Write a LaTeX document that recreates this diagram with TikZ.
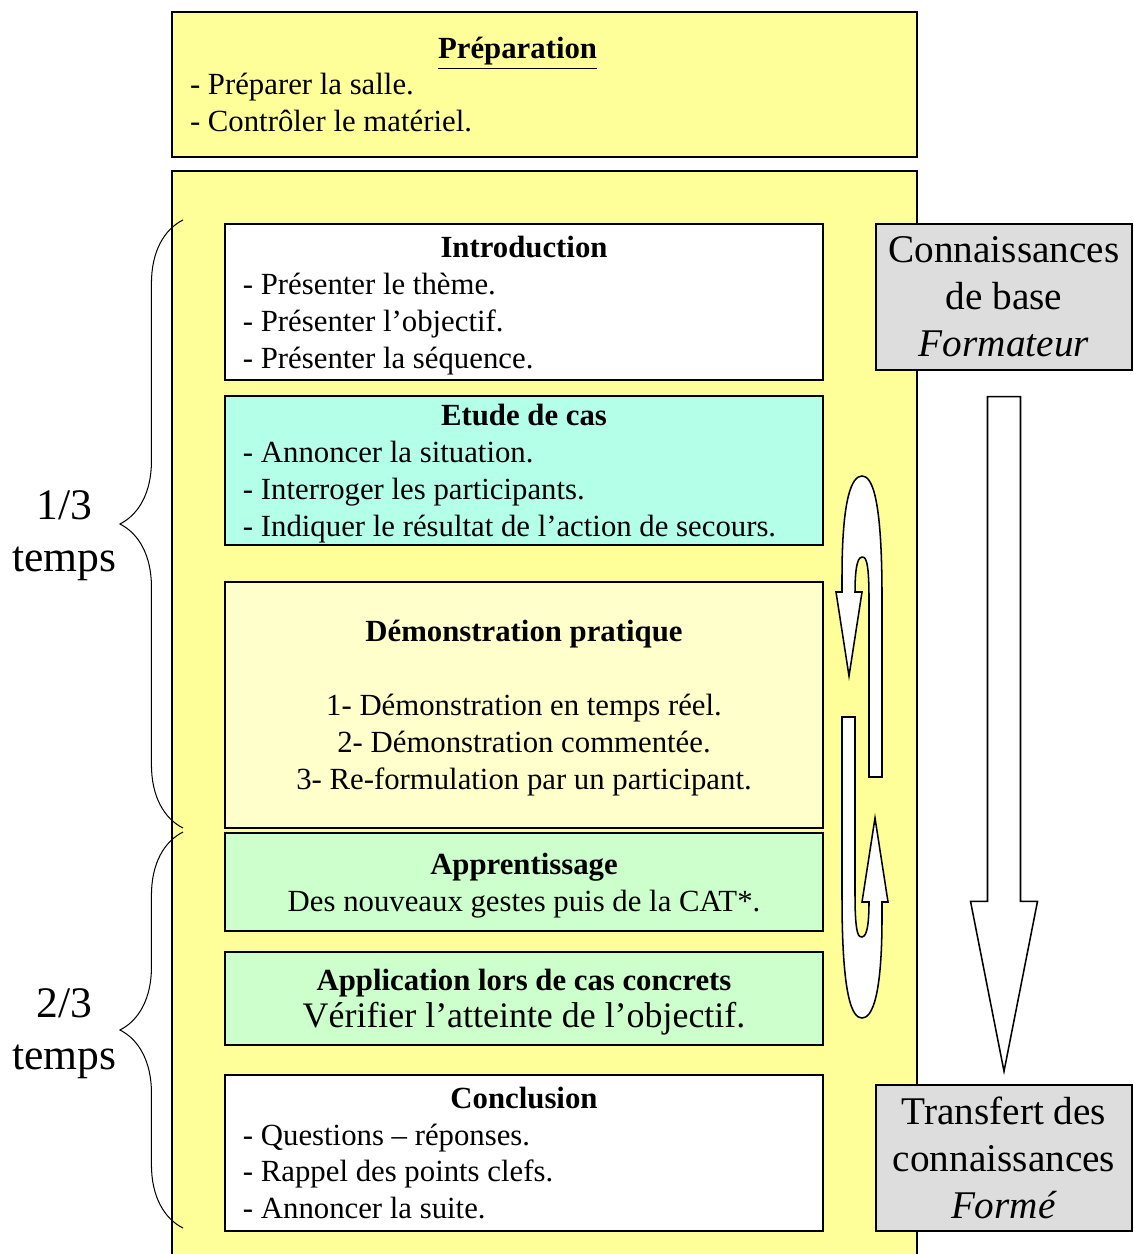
\documentclass[tikz,border=0pt]{standalone}
\usepackage{fontspec}
\setmainfont{Liberation Serif}
\usetikzlibrary{calc,decorations.pathreplacing}

\definecolor{jaune}{HTML}{FFFF99}
\definecolor{creme}{HTML}{FFFFCC}
\definecolor{menthe}{HTML}{B3FFE8}
\definecolor{vert}{HTML}{CCFFCC}
\definecolor{gris}{HTML}{DDDDDD}

\tikzset{
  etape/.style={draw, line width=0.8pt, minimum width=233.2pt, text width=219.2pt,
    inner xsep=7pt, inner ysep=0pt, align=flush left, font=\fontsize{12}{14.4}\selectfont},
  decale/.style={execute at begin node={\rule{0pt}{11pt}}},
  savoir/.style={draw, fill=gris, line width=0.6pt, minimum width=99.8pt,
    minimum height=56.9pt, inner sep=0pt, align=flush center, font=\fontsize{15.3}{18.4}\selectfont},
  accolade/.style={decorate, decoration={brace, amplitude=24.6pt}, line width=0.4pt},
  duree/.style={anchor=east, inner sep=0pt, align=flush center, font=\fontsize{17}{20.2}\selectfont},
  fleche/.style={draw, fill=white, line width=0.6pt},
  boucle/.pic={
    \draw[fleche] (-20,-30) -- (-7,-30) -- (-7,148)
      .. controls (-7,190) and (-3,190) .. (0,190)
      .. controls (3,190) and (7,185) .. (7,155)
      -- (0,155) -- (13,71) -- (26,155) -- (20,155) -- (20,170)
      .. controls (20,250) and (10,271) .. (0,271)
      .. controls (-10,271) and (-20,250) .. (-20,150) -- cycle;
  },
}

\begin{document}
\begin{tikzpicture}[x=0.39pt, y=-0.39pt]

\useasboundingbox[fill=white] (0,0) rectangle (1133,1254);

% Préparation
\node[etape, fill=jaune, minimum width=290.6pt, text width=276.5pt, minimum height=56.6pt] (prep) at (544.5,84.5)
  {{\centering\underline{\textbf{Préparation}}\hspace*{21pt}\par}- Préparer la salle.\\- Contrôler le matériel.};

% Fond de la séquence
\node[draw, fill=jaune, line width=0.6pt, minimum width=290.6pt, minimum height=430.6pt] (session) at (544.5,723) {};

% Etapes
\node[etape, decale, fill=white, minimum height=60.8pt] (intro) at (524,302)
  {{\centering\textbf{Introduction}\par}- Présenter le thème.\\- Présenter l’objectif.\\- Présenter la séquence.};
\node[etape, decale, fill=menthe, minimum height=58.1pt] (study) at (524,470.5)
  {{\centering\textbf{Etude de cas}\par}- Annoncer la situation.\\- Interroger les participants.\\- Indiquer le résultat de l’action de secours.};
\node[etape, decale, fill=creme, minimum height=95.9pt, align=flush center] (demo) at (524,705)
  {\textbf{Démonstration pratique}\\[14.4pt]1- Démonstration en temps réel.\\2- Démonstration commentée.\\3- Re-formulation par un participant.};
\node[etape, decale, fill=vert, minimum height=38.2pt, align=flush center] (practice) at (524,882)
  {\textbf{Apprentissage}\\Des nouveaux gestes puis de la CAT*.};
\node[etape, decale, fill=vert, minimum height=36.3pt, align=flush center] (apply) at (524,998.5)
  {\textbf{Application lors de cas concrets}\\{\fontsize{14}{14.4}\selectfont Vérifier l’atteinte de l’objectif.}};
\node[etape, fill=white, minimum height=60.8pt] (wrapup) at (524,1153)
  {{\centering\textbf{Conclusion}\par}- Questions – réponses.\\- Rappel des points clefs.\\- Annoncer la suite.};

% Connaissances
\node[savoir] (know) at (1004,297) {Connaissances\\de base\\\textit{Formateur}};
\node[savoir] (transfer) at (1004,1158) {Transfert des\\connaissances\\\textit{Formé}};

% Grande fleche
\coordinate (flowtop) at ($(know.south)+(0,26)$);
\coordinate (flowtip) at ($(transfer.north)+(0,-13)$);
\draw[fleche] ($(flowtop)+(-16.5,0)$) -- ($(flowtop)+(16.5,0)$) -- ($(flowtip)+(16.5,-170)$)
  -- ($(flowtip)+(33.5,-170)$) -- (flowtip) -- ($(flowtip)+(-33.5,-170)$)
  -- ($(flowtip)+(-16.5,-170)$) -- cycle;

% Fleches en boucle
\pic[rotate=180] at (862,747) {boucle};
\pic at (862,747) {boucle};

% Accolades
\coordinate (haut1) at (183,220);
\coordinate (bas1) at (183,828);
\coordinate (haut2) at (183,832);
\coordinate (bas2) at (183,1228);
\draw[accolade] (bas1) -- (haut1);
\draw[accolade] (bas2) -- (haut2);
\node[duree] (tiers) at ($(haut1)!0.5!(bas1)+(-66,12)$) {1/3\\temps};
\node[duree] (deuxtiers) at ($(haut2)!0.5!(bas2)+(-66,4)$) {2/3\\temps};

\end{tikzpicture}
\end{document}
